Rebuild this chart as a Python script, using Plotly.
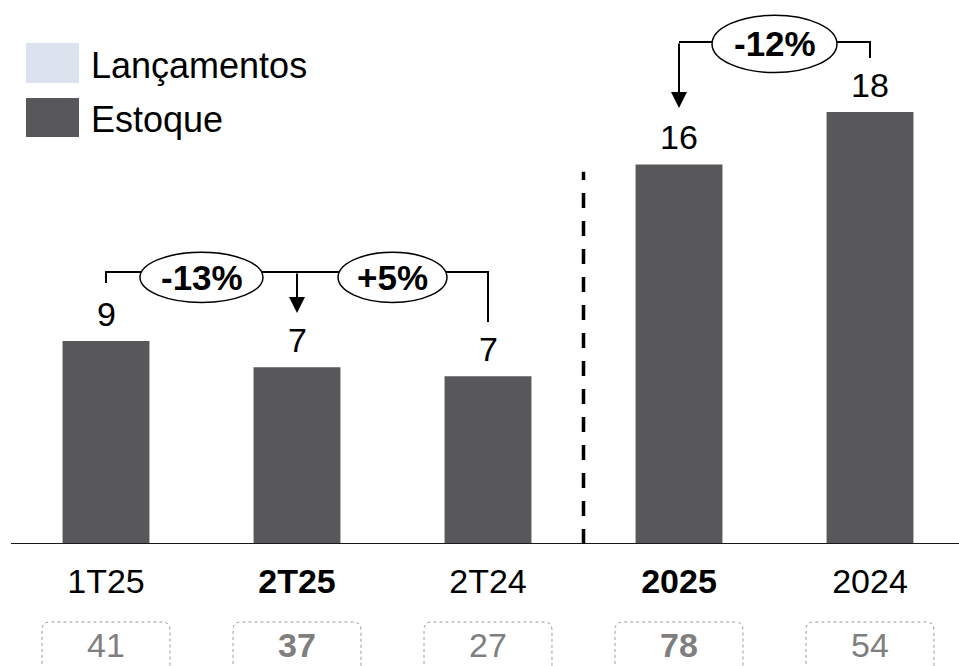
import plotly.graph_objects as go

# ---- data ----
categories = ["1T25", "2T25", "2T24", "2025", "2024"]
bold_categories = ["2T25", "2025"]
estoque = [8.5, 7.4, 7.03, 15.9, 18.1]
lancamentos = [41, 37, 27, 78, 54]
legend_names = ["Lançamentos", "Estoque"]

# ---- style ----
BAR = "#58585A"
LIGHT = "#DCE3EF"
FONT = "Liberation Sans, Arial, sans-serif"
NARROW = "Liberation Sans Narrow, Arial Narrow, Liberation Sans, Arial, sans-serif"
W, H = 959, 666
BASE_PX = 544
SCALE = 23.87            # px per unit
YMAX = BASE_PX / SCALE
X0 = -106 / 191
X1 = X0 + W / 191

def pct(a, b):
    v = (a / b - 1) * 100
    return f"{v:+.0f}%"

def fmt(v):
    return str(int(v + 0.5))

xs = list(range(len(categories)))

fig = go.Figure()
fig.add_trace(go.Bar(
    x=xs, y=estoque, name=legend_names[1],
    marker=dict(color=BAR, line=dict(width=0)), width=0.455,
    showlegend=False, hoverinfo="skip",
))

ticktext = [f"<b>{c}</b>" if c in bold_categories else c for c in categories]

shapes = []
annotations = []

# value labels
for x, v in zip(xs, estoque):
    annotations.append(dict(x=x, y=v, xref="x", yref="y", text=fmt(v),
                            showarrow=False, yanchor="middle", yshift=27,
                            font=dict(family=FONT, size=34, color="black")))

# baseline
shapes.append(dict(type="line", xref="paper", yref="y", x0=11 / W, x1=1, y0=0, y1=0,
                   line=dict(color="#1a1a1a", width=2)))
# dashed separator
shapes.append(dict(type="line", xref="x", yref="y", x0=2.5, x1=2.5, y0=0, y1=15.6,
                   line=dict(color="black", width=3.5, dash="15px,13px")))

LW = 2
# bracket 1: 1T25 -> 2T24
yb = 11.40
shapes.append(dict(type="path", xref="x", yref="y",
                   path=f"M 0,10.93 L 0,{yb} L 2,{yb} L 2,9.30",
                   line=dict(color="black", width=LW)))
# bracket 2: 2025 -> 2024
yt = 21.03
shapes.append(dict(type="path", xref="x", yref="y",
                   path=f"M 3,{yt} L 4,{yt} L 4,20.36",
                   line=dict(color="black", width=LW)))

# arrows
for x, y_from, y_to in [(1, yb, 9.68), (3, yt, 18.27)]:
    annotations.append(dict(x=x, y=y_to, ax=x, ay=y_from, xref="x", yref="y",
                            axref="x", ayref="y", text="", showarrow=True,
                            arrowhead=2, arrowsize=1.6, arrowwidth=LW,
                            arrowcolor="black"))

# ovals with percentages
ovals = [
    (0.5, 0.322, 11.17, 1.05, pct(estoque[1], estoque[0])),
    (1.5, 0.285, 11.17, 1.05, pct(estoque[1], estoque[2])),
    (3.5, 0.327, 20.95, 1.20, pct(estoque[3], estoque[4])),
]
for cx, hw, cy, hh, label in ovals:
    shapes.append(dict(type="circle", xref="x", yref="y",
                       x0=cx - hw, x1=cx + hw, y0=cy - hh, y1=cy + hh,
                       fillcolor="white", line=dict(color="black", width=1.5)))
    annotations.append(dict(x=cx, y=cy, xref="x", yref="y", text=f"<b>{label}</b>",
                            showarrow=False, font=dict(family=FONT, size=35, color="black"),
                            xanchor="center", yanchor="middle"))

# bottom boxes with Lançamentos
r_x = 8 / 191
r_y = 8 / H
top = 1 - 622 / H
bot = -0.06
for i, v in enumerate(lancamentos):
    xl, xr = i - 0.335, i + 0.335
    path = (f"M {xl},{bot} L {xl},{top - r_y} Q {xl},{top} {xl + r_x},{top} "
            f"L {xr - r_x},{top} Q {xr},{top} {xr},{top - r_y} L {xr},{bot}")
    shapes.append(dict(type="path", xref="x", yref="paper", path=path,
                       line=dict(color="#9a9a9a", width=1, dash="dot")))
    txt = f"<b>{v}</b>" if categories[i] in bold_categories else str(v)
    annotations.append(dict(x=i, y=1 - 645 / H, xref="x", yref="paper", text=txt,
                            showarrow=False, font=dict(family=NARROW, size=34, color="#7F7F7F"),
                            xanchor="center", yanchor="middle"))

# legend
legend_items = [(legend_names[0], LIGHT, 43, 83, 66), (legend_names[1], BAR, 98, 137, 119)]
for name, col, t, b, cy in legend_items:
    shapes.append(dict(type="rect", xref="paper", yref="paper",
                       x0=26 / W, x1=79 / W, y0=1 - b / H, y1=1 - t / H,
                       fillcolor=col, line=dict(width=0)))
    annotations.append(dict(x=89 / W, y=1 - cy / H, xref="paper", yref="paper", text=name,
                            showarrow=False, font=dict(family=FONT, size=36, color="black"),
                            xanchor="left", yanchor="middle"))

fig.update_layout(
    width=W, height=H,
    margin=dict(l=0, r=0, t=0, b=0),
    paper_bgcolor="white", plot_bgcolor="white",
    showlegend=False,
    xaxis=dict(range=[X0, X1], tickvals=xs, ticktext=ticktext,
               tickfont=dict(family=FONT, size=34, color="black"),
               showgrid=False, zeroline=False, showline=False, ticks="",
               ticklabelstandoff=14, fixedrange=True),
    yaxis=dict(range=[0, YMAX], domain=[(H - BASE_PX) / H, 1], visible=False,
               showgrid=False, zeroline=False, fixedrange=True),
    shapes=shapes, annotations=annotations,
)

fig.write_html("out.html", config={"displayModeBar": False},
               post_script="document.body.style.margin='0';document.body.style.overflow='hidden';")
